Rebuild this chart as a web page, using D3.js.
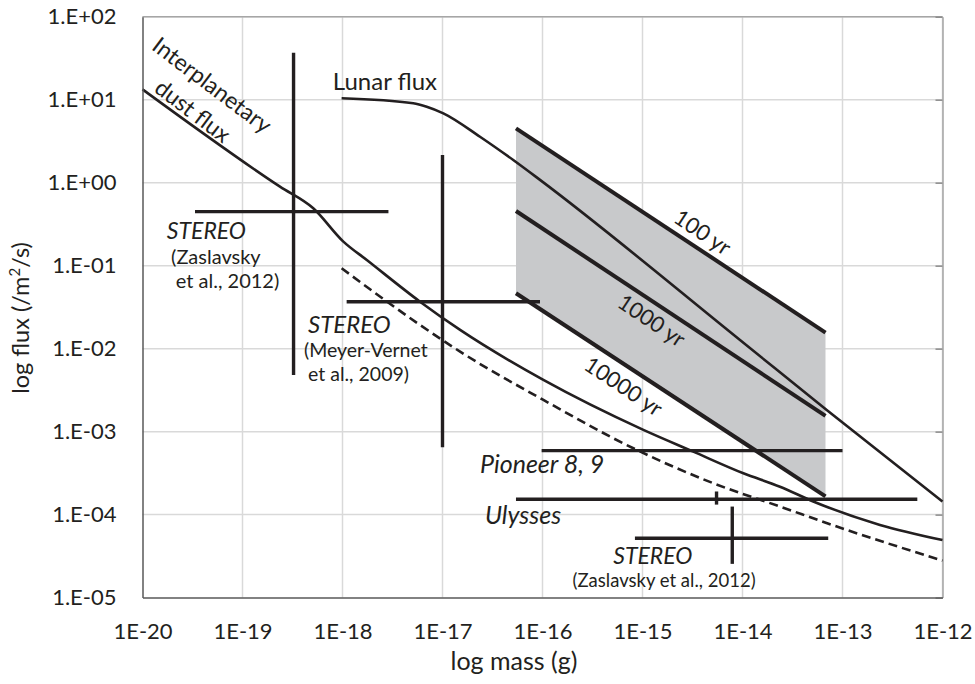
<!DOCTYPE html>
<html>
<head>
<meta charset="utf-8">
<script src="https://cdn.jsdelivr.net/npm/d3@7"></script>
<style>
  body { margin: 0; background: #fff; }
  text { font-family: Lato, "Open Sans", sans-serif; fill: #231f20; }
</style>
</head>
<body>
<svg id="chart"></svg>
<script>
// axis decades
const massTicks = [1e-20, 1e-19, 1e-18, 1e-17, 1e-16, 1e-15, 1e-14, 1e-13, 1e-12];
const fluxTicks = [1e2, 1e1, 1e0, 1e-1, 1e-2, 1e-3, 1e-4, 1e-5];

// interplanetary dust flux (solid)
const dustMass = [1e-20, 2.37e-19, 5.1e-19, 1.02e-18, 1.75e-18, 5.96e-18, 1.5e-17, 1.02e-16, 1.02e-15, 3.22e-15, 1.02e-14, 2.37e-14, 5.1e-14, 2.37e-13, 1e-12];
const dustFlux = [13.3, 0.895, 0.492, 0.195, 0.117, 0.0368, 0.0168, 0.0042, 0.00105, 0.000574, 0.000315, 0.000217, 0.000144, 0.0000752, 0.0000494];

// dashed curve
const dashMass = [9.8e-19, 5.96e-18, 1.5e-17, 1.02e-16, 8.1e-16, 5.1e-15, 2.37e-14, 1.1e-13, 1e-12];
const dashFlux = [0.0931, 0.0193, 0.0092, 0.00241, 0.00063, 0.000239, 0.000125, 0.0000655, 0.0000279];

// lunar flux
const lunarMass = [9.8e-19, 5.1e-18, 6.95e-18, 1.02e-17, 2.37e-17, 5.1e-17, 9.44e-17, 9.44e-15, 6.95e-14, 1e-12];
const lunarFlux = [10.4, 9.06, 8.24, 6.85, 3.58, 1.875, 1.08, 0.0127, 0.00182, 0.000144];

// age lines (shaded band between 100 yr and 10000 yr)
const ageMass = [5.43e-17, 6.76e-14];
const flux100yr = [4.52, 0.0156];
const flux1000yr = [0.456, 0.00155];
const flux10000yr = [0.0465, 0.000166];

// measurement bars: horizontal [m0, m1] at f, vertical at m over [f0, f1]
const hBars = [
  { m0: 3.35e-20, m1: 2.88e-18, f: 0.448 },
  { m0: 1.1e-18, m1: 9.44e-17, f: 0.0368 },
  { m0: 9.8e-17, m1: 1e-13, f: 0.00059 },
  { m0: 5.43e-17, m1: 5.6e-13, f: 0.000153 },
  { m0: 8.4e-16, m1: 7.2e-14, f: 0.000052 }
];
const vBars = [
  { m: 3.24e-19, f0: 36.8, f1: 0.00482 },
  { m: 1e-17, f0: 2.16, f1: 0.00065 },
  { m: 5.5e-15, f0: 0.00019, f1: 0.000132 },
  { m: 7.9e-15, f0: 0.000125, f1: 0.0000255 }
];

// annotations (anchored in data space)
const labels = [
  { t: "Lunar flux", m: 8.0e-19, f: 13.1, size: 24 },
  { t: "Interplanetary", m: 1.2e-20, f: 41, size: 23, rot: 37 },
  { t: "dust flux", m: 1.27e-20, f: 12.7, size: 23, rot: 37 },
  { t: "STEREO", m: 1.75e-20, f: 0.207, size: 23, italic: true },
  { t: "(Zaslavsky", m: 1.93e-20, f: 0.1033, size: 20 },
  { t: "et al., 2012)", m: 2.15e-20, f: 0.0533, size: 20 },
  { t: "STEREO", m: 4.52e-19, f: 0.0153, size: 24, italic: true },
  { t: "(Meyer-Vernet", m: 4.12e-19, f: 0.008, size: 19.5 },
  { t: "et al., 2009)", m: 4.52e-19, f: 0.00411, size: 19.5 },
  { t: "Pioneer 8, 9", m: 2.37e-17, f: 0.000315, size: 25, italic: true },
  { t: "Ulysses", m: 2.66e-17, f: 0.000077, size: 25, italic: true },
  { t: "STEREO", m: 5.1e-16, f: 0.0000251, size: 23, italic: true },
  { t: "(Zaslavsky et al., 2012)", m: 2.0e-16, f: 0.0000133, size: 18.5 },
  { t: "100 yr", m: 4.03e-15, f: 0.257, size: 22, rot: 33.6, mid: true },
  { t: "1000 yr", m: 1.245e-15, f: 0.0222, size: 22, rot: 33.6, mid: true },
  { t: "10000 yr", m: 6.53e-16, f: 0.00357, size: 22, rot: 33.6, mid: true }
];

const W = 975, H = 684;
const margin = { top: 16.7, right: 32.5, bottom: 86.4, left: 142.5 };
const width = W - margin.left - margin.right;
const height = H - margin.top - margin.bottom;

const svg = d3.select("#chart").attr("width", W).attr("height", H);
const g = svg.append("g").attr("transform", `translate(${margin.left},${margin.top})`);

const x = d3.scaleLog().domain([1e-20, 1e-12]).range([0, width]);
const y = d3.scaleLog().domain([1e-5, 1e2]).range([height, 0]);

// grid
g.append("g").selectAll("line").data(massTicks.slice(1)).join("line")
  .attr("x1", d => x(d)).attr("x2", d => x(d))
  .attr("y1", 0).attr("y2", height)
  .attr("stroke", "#d9d9d9").attr("stroke-width", 1.5);
g.append("g").selectAll("line").data(fluxTicks.slice(0, -1)).join("line")
  .attr("x1", 0).attr("x2", width)
  .attr("y1", d => y(d)).attr("y2", d => y(d))
  .attr("stroke", "#d9d9d9").attr("stroke-width", 1.5);

// top border
g.append("line").attr("x1", 0).attr("x2", width).attr("y1", 0).attr("y2", 0)
  .attr("stroke", "#a6a6a6").attr("stroke-width", 1.5);

// right axis: border with inward ticks
const rightAxis = g.append("g").attr("transform", `translate(${width},0)`)
  .call(d3.axisRight(y).tickValues(fluxTicks).tickSizeInner(-7).tickSizeOuter(0).tickFormat(""));
rightAxis.select(".domain").attr("stroke", "#a6a6a6").attr("stroke-width", 1.5);
rightAxis.selectAll(".tick line").attr("stroke", "#8c8c8c").attr("stroke-width", 1.5);

// shaded band
const band = [
  [ageMass[0], flux100yr[0]], [ageMass[1], flux100yr[1]],
  [ageMass[1], flux10000yr[1]], [ageMass[0], flux10000yr[0]]
];
g.append("path")
  .attr("d", "M" + band.map(p => [x(p[0]), y(p[1])].join(",")).join("L") + "Z")
  .attr("fill", "#c8c9cb");

const line = d3.line().x(d => x(d[0])).y(d => y(d[1])).curve(d3.curveMonotoneX);
const straight = d3.line().x(d => x(d[0])).y(d => y(d[1]));
const ink = "#231f20";

g.append("path").attr("d", line(d3.zip(dustMass, dustFlux)))
  .attr("fill", "none").attr("stroke", ink).attr("stroke-width", 2.6);
g.append("path").attr("d", line(d3.zip(dashMass, dashFlux)))
  .attr("fill", "none").attr("stroke", ink).attr("stroke-width", 2.6)
  .attr("stroke-dasharray", "9,5");
g.append("path").attr("d", line(d3.zip(lunarMass, lunarFlux)))
  .attr("fill", "none").attr("stroke", ink).attr("stroke-width", 2.6);

[flux100yr, flux1000yr, flux10000yr].forEach(fl => {
  g.append("path").attr("d", straight(d3.zip(ageMass, fl)))
    .attr("fill", "none").attr("stroke", ink).attr("stroke-width", 4);
});

// measurement bars
g.append("g").selectAll("line").data(hBars).join("line")
  .attr("x1", d => x(d.m0)).attr("x2", d => x(d.m1))
  .attr("y1", d => y(d.f)).attr("y2", d => y(d.f))
  .attr("stroke", ink).attr("stroke-width", 3.4);
g.append("g").selectAll("line").data(vBars).join("line")
  .attr("x1", d => x(d.m)).attr("x2", d => x(d.m))
  .attr("y1", d => y(d.f0)).attr("y2", d => y(d.f1))
  .attr("stroke", ink).attr("stroke-width", 3.4);

// left / bottom axes
const yAxis = g.append("g")
  .call(d3.axisLeft(y).tickValues(fluxTicks).tickSize(0).tickPadding(26)
    .tickFormat(d => {
      const e = Math.round(Math.log10(d));
      return "1.E" + (e >= 0 ? "+" : "-") + String(Math.abs(e)).padStart(2, "0");
    }));
yAxis.select(".domain").attr("stroke", "#595959").attr("stroke-width", 1.5);
yAxis.selectAll("text").attr("font-size", 22).attr("font-family", "Lato").attr("fill", "#262626");

const xAxis = g.append("g").attr("transform", `translate(0,${height})`)
  .call(d3.axisBottom(x).tickValues(massTicks).tickSize(0)
    .tickFormat(d => "1E" + Math.round(Math.log10(d))));
xAxis.select(".domain").attr("stroke", "#595959").attr("stroke-width", 1.5);
xAxis.selectAll("text").attr("font-size", 22).attr("font-family", "Lato").attr("fill", "#262626")
  .attr("y", 41).attr("dy", 0);

// axis titles
svg.append("text").attr("x", 514).attr("y", 670)
  .attr("text-anchor", "middle").attr("font-size", 25).text("log mass (g)");
const yt = svg.append("text")
  .attr("transform", `translate(29,${318}) rotate(-90)`)
  .attr("text-anchor", "middle").attr("font-size", 23.5);
yt.append("tspan").text("log flux (/m");
yt.append("tspan").attr("font-size", 15).attr("dy", -9).text("2");
yt.append("tspan").attr("dy", 9).text("/s)");

// annotations
g.append("g").selectAll("text").data(labels).join("text")
  .attr("transform", d => `translate(${x(d.m)},${y(d.f)})` + (d.rot ? ` rotate(${d.rot})` : ""))
  .attr("text-anchor", d => d.mid ? "middle" : "start")
  .attr("dominant-baseline", d => d.mid ? "central" : null)
  .attr("font-size", d => d.size)
  .attr("font-style", d => d.italic ? "italic" : null)
  .text(d => d.t);
</script>
</body>
</html>
